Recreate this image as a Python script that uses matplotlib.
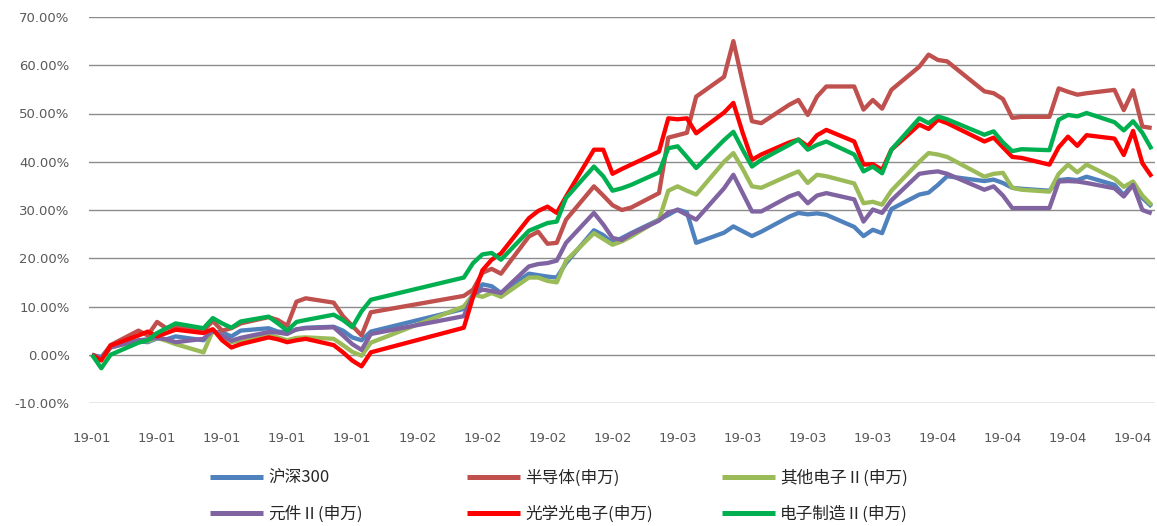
import matplotlib
matplotlib.use("Agg")
import matplotlib.pyplot as plt
from matplotlib.ticker import PercentFormatter
from matplotlib.font_manager import FontProperties
import matplotlib.dates as mdates
import numpy as np
import pandas as pd

plt.rcParams["axes.unicode_minus"] = False

# Trading days, 2019-01-02 .. 2019-04-26
dates = [
    "2019-01-02", "2019-01-03", "2019-01-04", "2019-01-07", "2019-01-08", "2019-01-09",
    "2019-01-10", "2019-01-11", "2019-01-14", "2019-01-15", "2019-01-16", "2019-01-17",
    "2019-01-18", "2019-01-21", "2019-01-22", "2019-01-23", "2019-01-24", "2019-01-25",
    "2019-01-28", "2019-01-29", "2019-01-30", "2019-01-31",
    "2019-02-01", "2019-02-11", "2019-02-12", "2019-02-13", "2019-02-14", "2019-02-15",
    "2019-02-18", "2019-02-19", "2019-02-20", "2019-02-21", "2019-02-22", "2019-02-25",
    "2019-02-26", "2019-02-27", "2019-02-28",
    "2019-03-01", "2019-03-04", "2019-03-05", "2019-03-06", "2019-03-07", "2019-03-08",
    "2019-03-11", "2019-03-12", "2019-03-13", "2019-03-14", "2019-03-15", "2019-03-18",
    "2019-03-19", "2019-03-20", "2019-03-21", "2019-03-22", "2019-03-25", "2019-03-26",
    "2019-03-27", "2019-03-28", "2019-03-29",
    "2019-04-01", "2019-04-02", "2019-04-03", "2019-04-04", "2019-04-08", "2019-04-09",
    "2019-04-10", "2019-04-11", "2019-04-12", "2019-04-15", "2019-04-16", "2019-04-17",
    "2019-04-18", "2019-04-19", "2019-04-22", "2019-04-23", "2019-04-24", "2019-04-25",
    "2019-04-26",
]

# Cumulative returns (%)
hs300 = [
    0, -0.5, 1.8, 2.8, 2.6, 3.4, 3.2, 3.8, 3.0, 4.8, 4.6, 3.8, 5.0, 5.5, 4.8, 4.6, 5.2, 5.6, 5.8, 5.0, 3.6, 3.0,
    4.8, 9.5, 12.0, 14.6, 14.2, 12.8, 16.8, 16.5, 16.2, 16.0, 19.0, 25.8, 24.8, 23.2, 24.2,
    25.2, 28.0, 29.0, 30.1, 29.5, 23.2, 25.3, 26.6, 25.6, 24.6, 25.5, 28.6, 29.4, 29.1, 29.3, 29.0, 26.5, 24.6, 25.9, 25.2, 30.2,
    33.2, 33.6, 35.2, 37.0, 36.0, 36.3, 35.6, 34.6, 34.4, 34.0, 36.2, 36.4, 36.2, 36.9, 35.2, 33.1, 35.5, 32.5, 30.7,
]
semiconductor = [
    0, -0.8, 2.0, 5.0, 4.0, 6.8, 5.5, 6.0, 5.0, 7.0, 5.0, 5.5, 6.5, 7.8, 7.2, 6.0, 11.0, 11.7, 10.8, 8.0, 6.0, 4.0,
    8.8, 12.2, 13.5, 17.0, 17.8, 16.8, 24.5, 25.5, 23.0, 23.2, 28.0, 34.9, 33.0, 31.0, 30.0,
    30.5, 33.5, 45.0, 45.5, 46.0, 53.5, 57.6, 65.0, 56.5, 48.4, 48.0, 51.8, 52.8, 49.7, 53.5, 55.6, 55.6, 50.8, 52.8, 51.0, 54.9,
    59.7, 62.2, 61.1, 60.8, 54.6, 54.2, 53.0, 49.1, 49.3, 49.3, 55.2, 54.5, 53.9, 54.2, 54.9, 50.7, 54.8, 47.3, 47.0,
]
other_electronics = [
    0, -1.0, 1.5, 3.0, 2.8, 3.5, 2.9, 2.2, 0.5, 5.0, 4.0, 2.6, 3.0, 4.0, 3.6, 3.0, 3.5, 3.6, 3.3, 2.0, 0.6, -0.2,
    2.5, 10.0, 12.5, 12.0, 12.8, 12.0, 16.0, 16.0, 15.3, 15.0, 19.5, 25.2, 24.0, 22.8, 23.5,
    24.5, 28.0, 34.0, 34.9, 34.0, 33.2, 40.0, 41.8, 38.5, 34.9, 34.6, 37.2, 38.0, 35.6, 37.3, 37.0, 35.5, 31.4, 31.7, 31.1, 34.0,
    40.0, 41.8, 41.5, 41.0, 36.9, 37.5, 37.7, 34.6, 34.2, 33.8, 37.5, 39.4, 37.8, 39.4, 36.5, 34.8, 35.9, 33.0, 31.0,
]
components = [
    0, -0.8, 1.5, 3.0, 3.2, 3.5, 3.2, 2.6, 3.3, 5.0, 4.0, 2.9, 3.5, 4.7, 4.6, 4.3, 5.3, 5.5, 5.7, 4.0, 2.2, 1.0,
    4.3, 8.0, 12.5, 13.5, 13.2, 12.8, 18.3, 18.8, 19.0, 19.5, 23.2, 29.4, 27.0, 24.2, 23.8,
    25.0, 27.8, 29.5, 30.0, 29.0, 28.0, 34.5, 37.3, 33.5, 29.7, 29.7, 32.8, 33.5, 31.4, 33.0, 33.5, 32.2, 27.6, 30.1, 29.4, 32.0,
    37.5, 37.8, 38.0, 37.5, 34.2, 34.9, 33.0, 30.4, 30.4, 30.4, 35.9, 36.0, 35.9, 35.6, 34.5, 32.8, 35.2, 30.0, 29.3,
]
optoelectronics = [
    0, -1.2, 1.9, 4.0, 4.8, 3.8, 4.5, 5.2, 4.5, 5.3, 3.0, 1.5, 2.2, 3.6, 3.2, 2.6, 3.0, 3.3, 2.0, 0.5, -1.2, -2.4,
    0.5, 5.6, 12.0, 17.5, 19.7, 21.0, 28.3, 29.8, 30.7, 29.4, 32.8, 42.5, 42.5, 37.5, 38.5,
    39.4, 42.1, 49.0, 48.8, 49.0, 45.9, 50.2, 52.2, 46.0, 40.4, 41.5, 44.0, 44.6, 43.2, 45.5, 46.6, 44.2, 39.4, 39.5, 38.3, 42.5,
    47.7, 46.8, 48.7, 48.0, 44.2, 45.0, 43.0, 41.0, 40.8, 39.4, 43.0, 45.2, 43.3, 45.5, 44.8, 41.4, 46.4, 39.7, 36.9,
]
manufacturing = [
    0, -2.8, 0.0, 2.5, 3.0, 4.5, 5.5, 6.5, 5.5, 7.6, 6.5, 5.6, 6.9, 7.9, 6.5, 5.0, 6.8, 7.2, 8.3, 7.2, 5.7, 9.0,
    11.4, 16.0, 19.0, 20.8, 21.1, 19.7, 25.7, 26.5, 27.3, 27.6, 32.5, 39.0, 37.0, 34.0, 34.5,
    35.2, 37.8, 42.8, 43.2, 41.0, 38.7, 44.5, 46.2, 42.5, 39.0, 40.4, 43.5, 44.6, 42.5, 43.5, 44.2, 41.5, 38.0, 39.0, 37.6, 42.5,
    49.0, 48.0, 49.4, 48.8, 45.6, 46.3, 44.0, 42.2, 42.6, 42.4, 48.7, 49.7, 49.4, 50.1, 48.2, 46.5, 48.4, 46.0, 42.6,
]

series_names = ["沪深300", "半导体(申万)", "其他电子Ⅱ(申万)", "元件Ⅱ(申万)", "光学光电子(申万)", "电子制造Ⅱ(申万)"]
series_values = [hs300, semiconductor, other_electronics, components, optoelectronics, manufacturing]
series_colors = ["#4F81BD", "#C0504D", "#9BBB59", "#8064A2", "#FF0000", "#00B050"]

y_ticks = [-10, 0, 10, 20, 30, 40, 50, 60, 70]

W, H = 1157, 526
fig = plt.figure(figsize=(W / 100, H / 100), dpi=100)
ax = fig.add_axes([89 / W, 1 - 403 / H, (1155 - 89) / W, (403 - 17) / H])

x = pd.to_datetime(dates)
lines = []
for name, vals, col in zip(series_names, series_values, series_colors):
    (ln,) = ax.plot(x, vals, color=col, lw=3.1, solid_joinstyle="round",
                    solid_capstyle="butt", label=name)
    lines.append(ln)

start = pd.Timestamp("2019-01-02")
end = pd.Timestamp("2019-04-26")
ax.set_xlim(start - pd.Timedelta(hours=7.7), end + pd.Timedelta(hours=8.6))
ax.set_ylim(-10, 70)

ax.set_xticks(pd.date_range(start, periods=17, freq="7D"))
ax.xaxis.set_major_formatter(mdates.DateFormatter("%y-%m"))
ax.set_yticks(y_ticks)
ax.yaxis.set_major_formatter(PercentFormatter(xmax=100, decimals=2))

ax.yaxis.grid(True, color="#8C8C8C", lw=1.0)
ax.set_axisbelow(True)
for s in ax.spines.values():
    s.set_visible(False)
ax.tick_params(axis="both", length=0, labelsize=9.5, labelcolor="#595959")
ax.tick_params(axis="x", pad=21)
ax.tick_params(axis="y", pad=14)

# Legend: three columns, two rows
leg_font = FontProperties(family=["Noto Sans CJK SC", "DejaVu Sans"], size=12)
col_x = [210, 467, 722]
columns = [[0, 3], [1, 4], [2, 5]]
for cx, idx in zip(col_x, columns):
    leg = fig.legend([lines[i] for i in idx], [series_names[i] for i in idx],
                     loc="upper left", bbox_to_anchor=(cx / W, 1 - 470 / H),
                     frameon=False, borderpad=0, borderaxespad=0,
                     handlelength=3.2, handletextpad=0.3, labelspacing=1.1,
                     prop=leg_font)
    for t in leg.get_texts():
        t.set_color("#262626")
    for h in leg.get_lines():
        h.set_linewidth(3.6)

fig.savefig("out.png", dpi=100)
